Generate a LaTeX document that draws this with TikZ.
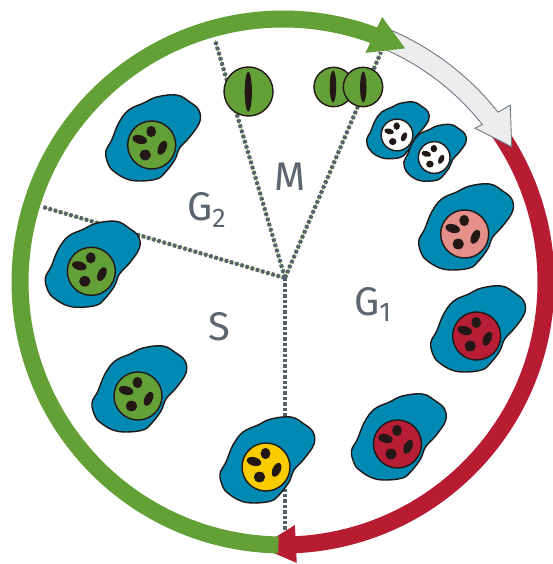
\documentclass[tikz,border=0pt]{standalone}
\usepackage{fontspec}
\setmainfont{Fira Sans}
\usetikzlibrary{calc}

\definecolor{ringgreen}{HTML}{63A036}
\definecolor{ringred}{HTML}{B81C33}
\definecolor{arrowgray}{HTML}{EDEDEE}
\definecolor{edgegray}{HTML}{6D7883}
\definecolor{cellblue}{HTML}{0089B2}
\definecolor{nucgreen}{HTML}{64A038}
\definecolor{nucred}{HTML}{B71D35}
\definecolor{nucpink}{HTML}{E48F8A}
\definecolor{nucyellow}{HTML}{F9CC00}
\definecolor{inkblack}{HTML}{231816}
\definecolor{labelgray}{HTML}{5D6670}
\definecolor{divgray}{HTML}{56626B}
\definecolor{divgreen}{HTML}{8CC152}

\newcommand\phasesub[1]{\raisebox{-6.5pt}{\fontsize{27}{27}\selectfont #1}}

\tikzset{
  ringarc/.style={line width=17pt, line cap=butt},
  divline/.style={draw=divgray, line width=4pt, dash pattern=on 3.3pt off 2.1pt},
  divcore/.style={draw=divgreen, line width=1pt},
  outline/.style={draw=inkblack, line width=1.4pt},
  chromo/.style={fill=inkblack},
  phaselabel/.style={text=labelgray, inner sep=0pt, font=\fontsize{40}{40}\selectfont},
  % a cell: irregular blue body with a round nucleus and four chromosomes
  pics/cell/.style={code={
    \draw[outline, fill=cellblue] plot[smooth cycle, tension=0.65] coordinates {
      (5,-48) (25,-50) (38,-43) (47,-35) (48,-23) (38,-8) (28,3) (23,15)
      (13,28) (5,34) (-12,36) (-25,34) (-37,27) (-43,20) (-46,7) (-40,-5)
      (-33,-22) (-23,-35) (-8,-42)};
    \draw[outline, fill=#1] (0,0) circle (24);
    \fill[chromo] (-0.5,-13.5) ellipse (4.9 and 5.6);
    \fill[chromo, shift={(-12,-5.5)}, rotate=-15] (0,0) ellipse (7.4 and 4.3);
    \fill[chromo, shift={(10.6,2.8)}, rotate=65] (0,0) ellipse (7.4 and 4.1);
    \fill[chromo] (-6.5,10) ellipse (5.7 and 5.3);
  }}
}

\begin{document}
\begin{tikzpicture}[x=1pt, y=-1pt]
\fill[white] (0,0) rectangle (552,564);
\useasboundingbox (0,0) rectangle (552,564);

% phase dividers
\coordinate (J) at (285,278);
\coordinate (dTL) at (215,40);
\coordinate (dTR) at (381,52);
\coordinate (dL) at (43,207);
\coordinate (dB) at (285,530);
\foreach \e in {dTL,dTR,dL} {
  \draw[divcore] (J) -- (\e);
  \draw[divline] (J) -- (\e);
}
\draw[divline] (J) -- (dB);

% cycle ring and arrows
\begin{scope}[shift={(283,282)}]
  \draw[ringarc, ringred] plot[domain=-35:88, samples=120]
    ({263*cos(\x)},{263*sin(\x)});
  \fill[ringred] (87.2:243.3) -- (95:266) -- (87.2:281.3) -- cycle;
  \draw[ringarc, ringgreen] plot[domain=91:290.8, samples=150]
    ({263*cos(\x)},{263*sin(\x)});
  % exit arrow from mitosis
  \filldraw[fill=arrowgray, draw=edgegray, line width=0.9pt, line join=miter]
    plot[domain=-69:-38.3, samples=40] ({274*cos(\x)},{274*sin(\x)})
    -- (-37.9:288) -- (-30.6:265.7) -- (-38.7:246)
    -- plot[domain=-38.3:-69, samples=40] ({254*cos(\x)},{254*sin(\x)})
    -- cycle;
  \fill[ringgreen] (-69.5:283) -- (-62.4:263.6) -- (-70.2:243.5) -- cycle;
\end{scope}

% mitotic figures
\draw[outline, fill=nucgreen] (248.5,91.5) circle (24.5);
\fill[chromo] (248.3,91.7) ellipse (3.6 and 20);
\draw[outline, fill=nucgreen] (333.7,87) circle (19.7);
\fill[chromo] (333,86.5) ellipse (3.2 and 16);
\draw[outline, fill=nucgreen] (363,87) circle (19.7);
\fill[chromo] (363.3,87) ellipse (3.2 and 15.5);

% cells around the cycle
\pic at (151.7,145) {cell=nucgreen};
\pic at (91.3,271.3) {cell=nucgreen};
\pic at (138,396) {cell=nucgreen};
\pic at (266,467) {cell=nucyellow};
\pic at (397.5,444) {cell=nucred};
\pic at (476.7,336) {cell=nucred};
\pic at (464.7,234) {cell=nucpink};
\pic[scale=0.66] at (397,135) {cell=white};
\pic[scale=0.66] at (434.2,157.5) {cell=white};

% phase labels
\node[phaselabel] (labM) at (290,177) {M};
\node[phaselabel, anchor=base west] (labG2) at (187,220.5) {G\phasesub{2}};
\node[phaselabel, anchor=base west] (labG1) at (354,315) {G\phasesub{1}};
\node[phaselabel] (labS) at (219,327) {S};
\end{tikzpicture}
\end{document}
